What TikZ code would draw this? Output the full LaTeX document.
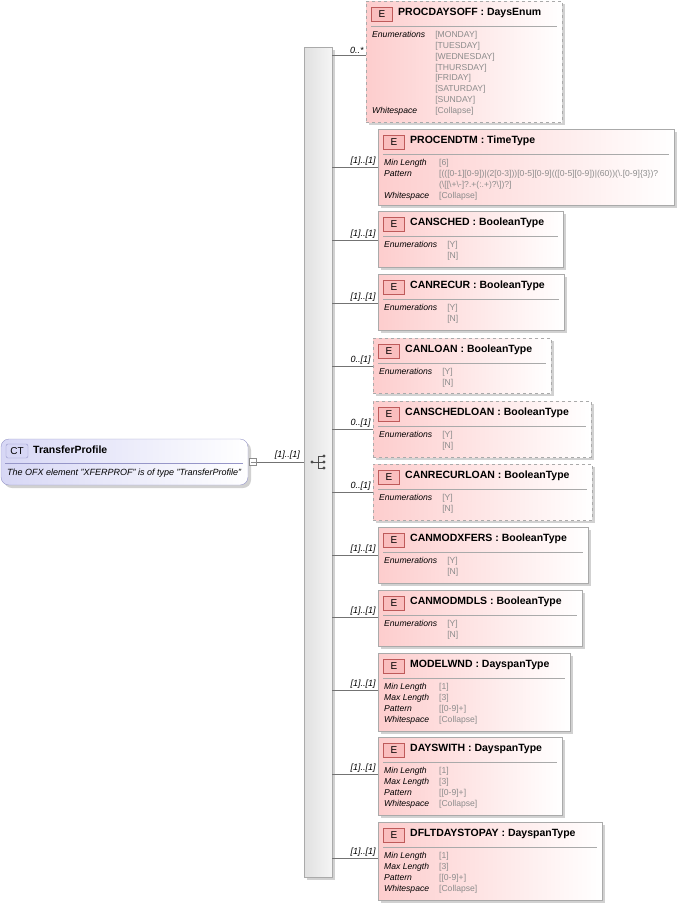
\documentclass[tikz,border=0pt]{standalone}
\usepackage{fontspec}
\setmainfont{Liberation Sans}
\usetikzlibrary{fit,shadows}
\definecolor{pinkA}{RGB}{253,205,205}
\definecolor{boxline}{RGB}{170,170,170}
\definecolor{valgray}{RGB}{140,140,140}
\definecolor{badgeE}{RGB}{250,190,190}
\definecolor{badgeEline}{RGB}{190,90,90}
\definecolor{ctfill}{RGB}{215,215,245}
\definecolor{ctline}{RGB}{150,150,200}
\tikzset{
  elem/.style={draw=boxline, left color=pinkA, right color=white, inner sep=0pt},
  shadowbox/.style={fill=black!18, draw=none},
  badge/.style={draw=badgeEline, fill=badgeE, inner sep=0pt, minimum width=21pt, minimum height=14pt, font=\fontsize{10}{10}\selectfont},
  title/.style={anchor=west, font=\fontsize{10.5}{11}\selectfont\bfseries, inner sep=0pt},
  props/.style={anchor=north west, inner sep=0pt, font=\fontsize{8.6}{10.8}\selectfont},
  mult/.style={anchor=south east, font=\fontsize{9}{9}\selectfont\itshape, inner sep=1pt},
  conn/.style={draw=black!55, line width=0.5pt}
}
\newcommand\PV[1]{\textcolor{valgray}{#1}}
% #1 name #2 x1 #3 y1 #4 x2 #5 y2 #6 title #7 dash style #8 rows
\newcommand\elembox[8]{%
  \fill[shadowbox] (#2+3,#3+3) rectangle (#4+3,#5+3);
  \coordinate (#1nw) at (#2,#3); \coordinate (#1se) at (#4,#5);
  \node[elem, fit=(#1nw)(#1se), #7] (#1) {};
  \node[badge] (#1b) at (#2+16,#3+13) {E};
  \node[title] (#1t) at (#2+32,#3+12) {#6};
  \draw[boxline] (#2+5,#3+25) -- (#4-5,#3+25);
  \node[props] (#1p) at (#2+6,#3+29) {\begin{tabular}{@{}l@{\hspace{10pt}}l@{}}#8\end{tabular}};
}
\begin{document}
\begin{tikzpicture}[x=1pt,y=-1pt]
\useasboundingbox (0,0) rectangle (679,906);
% sequence bar
\fill[shadowbox] (307,50) rectangle (335,880);
\node[draw=boxline, left color=black!12, right color=black!4, inner sep=0pt, fit={(304,47)(332,877)}] (bar) {};
% sequence icon
\draw[black!70, line width=0.8pt] (312,462) -- (318,462) (318,456) -- (318,468)
  (318,456) -- (324,456) (318,462) -- (324,462) (318,468) -- (324,468);
\fill[black!70] (312,462) circle (1.6) (324,456) circle (1.6) (324,462) circle (1.6) (324,468) circle (1.6);
% CT box
\fill[shadowbox, rounded corners=8pt] (4,442) rectangle (251,488);
\node[draw=ctline, left color=ctfill, right color=white, rounded corners=8pt, inner sep=0pt, fit={(1,439)(248,485)}] (ct) {};
\node[draw=ctline, fill=ctfill, rounded corners=2pt, inner sep=0pt, minimum width=22pt, minimum height=14pt, font=\fontsize{10}{10}\selectfont] (ctb) at (17,451) {CT};
\node[title] (ctt) at (33,450) {TransferProfile};
\draw[ctline] (5,463) -- (243,463);
\node[anchor=west, inner sep=0pt, font=\fontsize{9}{10}\selectfont\itshape] (ctd) at (7,473) {The OFX element "XFERPROF" is of type "TransferProfile"};
\node[draw=black!45, fill=white, minimum width=7pt, minimum height=7pt, inner sep=0pt] (ctm) at (253,462) {};
\draw[black!45] (250.5,462) -- (255.5,462);
\draw[conn] (ctm.east) -- (bar.west |- ctm.east);
\node[mult] (ctmult) at (301,461) {[1]..[1]};
% elements
\elembox{e1}{366}{1}{562}{122}{PROCDAYSOFF : DaysEnum}{dashed}{\textit{Enumerations} & \PV{[MONDAY]}\\ & \PV{[TUESDAY]}\\ & \PV{[WEDNESDAY]}\\ & \PV{[THURSDAY]}\\ & \PV{[FRIDAY]}\\ & \PV{[SATURDAY]}\\ & \PV{[SUNDAY]}\\ \textit{Whitespace} & \PV{[Collapse]}}
\elembox{e2}{378}{129}{674}{205}{PROCENDTM : TimeType}{}{\textit{Min Length} & \PV{[6]}\\ \textit{Pattern} & \PV{[(([0-1][0-9])|(2[0-3]))[0-5][0-9](([0-5][0-9])|(60))(\textbackslash.[0-9]\{3\})?}\\ & \PV{(\textbackslash[[\textbackslash+\textbackslash-]?.+(:.+)?\textbackslash])?]}\\ \textit{Whitespace} & \PV{[Collapse]}}
\elembox{e3}{378}{211}{563}{267}{CANSCHED : BooleanType}{}{\textit{Enumerations} & \PV{[Y]}\\ & \PV{[N]}}
\elembox{e4}{378}{274}{564}{330}{CANRECUR : BooleanType}{}{\textit{Enumerations} & \PV{[Y]}\\ & \PV{[N]}}
\elembox{e5}{373}{338}{551}{393}{CANLOAN : BooleanType}{dashed}{\textit{Enumerations} & \PV{[Y]}\\ & \PV{[N]}}
\elembox{e6}{373}{401}{591}{457}{CANSCHEDLOAN : BooleanType}{dashed}{\textit{Enumerations} & \PV{[Y]}\\ & \PV{[N]}}
\elembox{e7}{373}{464}{592}{520}{CANRECURLOAN : BooleanType}{dashed}{\textit{Enumerations} & \PV{[Y]}\\ & \PV{[N]}}
\elembox{e8}{378}{527}{588}{583}{CANMODXFERS : BooleanType}{}{\textit{Enumerations} & \PV{[Y]}\\ & \PV{[N]}}
\elembox{e9}{378}{590}{582}{646}{CANMODMDLS : BooleanType}{}{\textit{Enumerations} & \PV{[Y]}\\ & \PV{[N]}}
\elembox{e10}{378}{653}{570}{731}{MODELWND : DayspanType}{}{\textit{Min Length} & \PV{[1]}\\ \textit{Max Length} & \PV{[3]}\\ \textit{Pattern} & \PV{[[0-9]+]}\\ \textit{Whitespace} & \PV{[Collapse]}}
\elembox{e11}{378}{737}{562}{815}{DAYSWITH : DayspanType}{}{\textit{Min Length} & \PV{[1]}\\ \textit{Max Length} & \PV{[3]}\\ \textit{Pattern} & \PV{[[0-9]+]}\\ \textit{Whitespace} & \PV{[Collapse]}}
\elembox{e12}{378}{822}{602}{900}{DFLTDAYSTOPAY : DayspanType}{}{\textit{Min Length} & \PV{[1]}\\ \textit{Max Length} & \PV{[3]}\\ \textit{Pattern} & \PV{[[0-9]+]}\\ \textit{Whitespace} & \PV{[Collapse]}}
% connectors
\foreach \n/\y/\m in {e1/55/{0..*}, e2/167/{[1]..[1]}, e3/240/{[1]..[1]}, e4/303/{[1]..[1]}, e5/366/{0..[1]}, e6/429/{0..[1]}, e7/492/{0..[1]}, e8/555/{[1]..[1]}, e9/617/{[1]..[1]}, e10/690/{[1]..[1]}, e11/774/{[1]..[1]}, e12/858/{[1]..[1]}}{
  \draw[conn] (bar.east |- 0,\y) -- (\n.west |- 0,\y);
  \node[mult] at (\n.west |- 0,\y) [xshift=-1pt] {\m};
}
\end{tikzpicture}
\end{document}
